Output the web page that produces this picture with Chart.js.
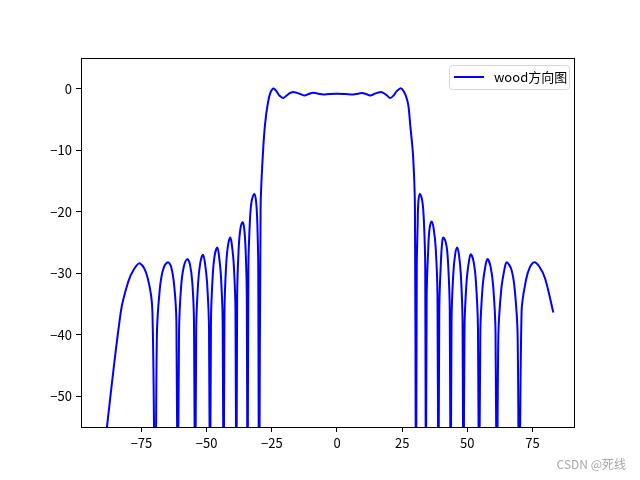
<!DOCTYPE html>
<html>
<head>
<meta charset="utf-8">
<script src="https://cdn.jsdelivr.net/npm/chart.js@4"></script>
<style>
  html, body { margin: 0; padding: 0; background: #fff; }
</style>
</head>
<body>
<canvas id="myChart" width="640" height="480"></canvas>
<script>
// pattern samples (angle in degrees, gain in dB)
const angles = [
  -89.6, -82.9, -80.1, -78.1, -75.6, -72.6, -70.8, -69.7,
  -69.1, -68.0, -66.7, -64.9, -63.6, -62.4, -61.6, -61.1,
  -60.6, -59.8, -58.75, -57.4, -56.4, -55.5, -54.85, -54.4,
  -54.0, -53.26, -52.4, -51.4, -50.7, -49.84, -49.1, -48.7,
  -48.34, -47.66, -46.88, -45.9, -45.32, -44.54, -43.86, -43.5,
  -43.16, -42.52, -41.78, -40.9, -40.32, -39.58, -38.94, -38.6,
  -38.3, -37.74, -37.1, -36.2, -35.6, -35.05, -34.6, -34.3,
  -33.99, -33.42, -32.76, -31.7, -31.0, -30.55, -30.2, -29.9,
  -29.3, -28.5, -27.6, -26.5, -25.5, -24.4, -23.3, -22.0, -20.6, -19.2,
  -17.8, -16.4, -14.5, -12.5, -10.8, -9.1, -7.2, -5.3, -3.0, -0.1,
  3.0, 6.3, 8.0, 9.5, 11.1, 12.7, 14.6, 16.5, 17.9, 19.2,
  20.4, 21.7, 23.0, 24.5, 25.6, 26.7, 27.4, 28.1, 29.2, 29.9, 30.3,
  30.6, 30.95, 31.2, 31.8, 32.75, 33.35, 33.85, 34.1,
  34.4, 35.0, 35.5, 36.3, 37.1, 37.9, 38.55, 38.9,
  39.23, 39.85, 40.35, 40.8, 41.95, 42.66, 43.27, 43.6,
  43.94, 44.58, 45.3, 46.1, 46.8, 47.52, 48.16, 48.5,
  48.92, 49.7, 50.6, 51.3, 52.4, 53.3, 54.08, 54.5,
  54.98, 55.86, 56.9, 57.7, 58.9, 59.94, 60.82, 61.3,
  61.9, 63.0, 64.3, 65.1, 66.9, 68.2, 69.3, 69.9,
  70.8, 72.5, 74.0, 75.7, 77.6, 79.8, 83.0
];
const gainDb = [
  -60, -36.2, -31.4, -29.5, -28.4, -30.8, -36.3, -80,
  -40.2, -32.7, -29.4, -28.2, -29.0, -32.2, -38.0, -80,
  -39.7, -32.2, -28.9, -27.7, -28.6, -31.5, -38.0, -80,
  -39.0, -31.5, -28.2, -27.0, -28.2, -31.5, -39.0, -80,
  -37.8, -30.3, -27.0, -25.8, -27.0, -30.3, -37.8, -80,
  -36.2, -28.7, -25.4, -24.2, -25.4, -28.7, -36.2, -80,
  -33.7, -26.2, -22.9, -21.7, -22.7, -26.2, -33.7, -80,
  -29.1, -21.6, -18.3, -17.1, -18.5, -22.0, -29.1, -80,
  -19.4, -11.2, -5.8, -2.3, -0.6, 0.05, -0.35, -1.15, -1.5, -1.05,
  -0.65, -0.55, -0.8, -1.1, -0.85, -0.65, -0.8, -0.93, -0.85, -0.8,
  -0.85, -0.93, -0.8, -0.7, -0.85, -1.1, -0.8, -0.55, -0.7, -1.1,
  -1.5, -1.1, -0.35, 0.1, -0.4, -1.5, -2.8, -5.9, -11.0, -19.4, -80,
  -29.1, -22.0, -18.5, -17.1, -18.3, -21.6, -29.1, -80,
  -33.6, -26.1, -22.8, -21.6, -22.8, -26.1, -33.6, -80,
  -36.2, -28.2, -25.0, -24.2, -25.4, -28.7, -36.2, -80,
  -37.8, -30.3, -27.0, -25.8, -27.0, -30.3, -37.8, -80,
  -38.9, -31.4, -28.1, -26.9, -28.1, -31.4, -38.9, -80,
  -39.7, -32.2, -28.9, -27.7, -28.9, -32.2, -39.7, -80,
  -40.2, -32.7, -29.2, -28.2, -29.4, -32.7, -40.2, -80,
  -36.3, -31.1, -29.0, -28.2, -28.9, -30.8, -36.4
];
const xTicks = [-75, -50, -25, 0, 25, 50, 75];
const yTicks = [0, -10, -20, -30, -40, -50];
const seriesLabel = 'wood方向图';
const watermark = 'CSDN @死线';

const font = '"Noto Sans CJK SC", "DejaVu Sans", sans-serif';
const minus = v => String(v).replace('-', '\u2212');

const points = angles.map((a, i) => ({ x: a, y: gainDb[i] }));

// box frame, legend and watermark
const extras = {
  id: 'extras',
  afterDatasetsDraw(chart) {
    const { ctx, chartArea: a } = chart;
    ctx.save();
    ctx.strokeStyle = '#000';
    ctx.lineWidth = 1;
    ctx.strokeRect(Math.round(a.left) + 0.5, Math.round(a.top) + 0.5,
      Math.round(a.right - a.left) - 1, Math.round(a.bottom - a.top));

    // legend
    const w = 120, h = 24;
    const lx = a.right - 6 - w, ly = a.top + 7;
    ctx.beginPath();
    ctx.roundRect(lx + 0.5, ly + 0.5, w, h, 3);
    ctx.fillStyle = 'rgba(255,255,255,0.8)';
    ctx.fill();
    ctx.strokeStyle = '#d6d6d6';
    ctx.stroke();
    ctx.beginPath();
    ctx.moveTo(lx + 5, ly + 12);
    ctx.lineTo(lx + 35, ly + 12);
    ctx.strokeStyle = '#0000ff';
    ctx.lineWidth = 2;
    ctx.stroke();
    ctx.fillStyle = '#000';
    ctx.font = '13px ' + font;
    ctx.textBaseline = 'middle';
    ctx.fillText(seriesLabel, lx + 45, ly + 12.5);

    // watermark
    ctx.fillStyle = '#a8a8a8';
    ctx.font = '12px ' + font;
    ctx.textAlign = 'right';
    ctx.fillText(watermark, 626, 464);
    ctx.restore();
  }
};

const ctx = document.getElementById('myChart');

new Chart(ctx, {
  type: 'scatter',
  data: {
    datasets: [{
      label: seriesLabel,
      data: points,
      showLine: true,
      borderColor: '#0000ff',
      backgroundColor: '#0000ff',
      borderWidth: 2,
      pointRadius: 0,
      tension: 0.35,
      clip: 0
    }]
  },
  options: {
    responsive: false,
    animation: false,
    layout: { padding: { left: 0, top: 58, right: 65, bottom: 0 } },
    plugins: { legend: { display: false }, tooltip: { enabled: false } },
    scales: {
      x: {
        type: 'linear',
        min: -98.2,
        max: 91.3,
        afterBuildTicks: s => { s.ticks = xTicks.map(v => ({ value: v })); },
        afterFit: s => { s.height = 53; },
        grid: { drawOnChartArea: false, color: '#000', tickLength: 5 },
        border: { display: false },
        ticks: { color: '#000', font: { family: font, size: 13 }, padding: 3, maxRotation: 0, callback: minus }
      },
      y: {
        type: 'linear',
        min: -55,
        max: 5,
        afterBuildTicks: s => { s.ticks = yTicks.map(v => ({ value: v })); },
        afterFit: s => { s.width = 81; },
        grid: { drawOnChartArea: false, color: '#000', tickLength: 5 },
        border: { display: false },
        ticks: { color: '#000', font: { family: font, size: 13 }, padding: 4, callback: minus }
      }
    }
  },
  plugins: [extras]
});
</script>
</body>
</html>
